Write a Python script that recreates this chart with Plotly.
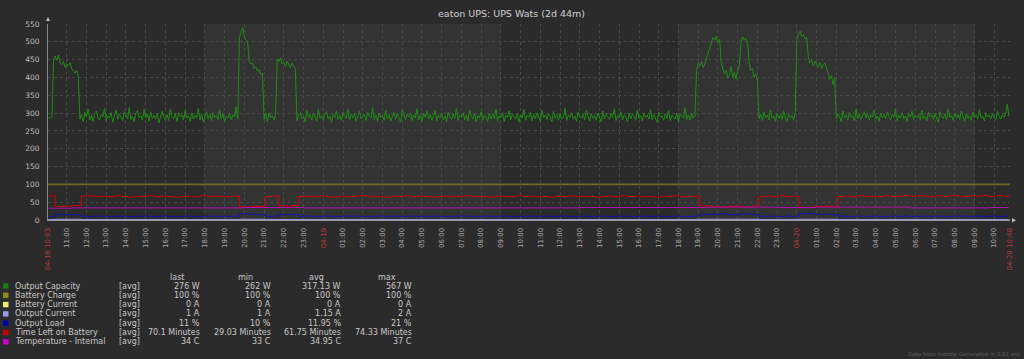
import plotly.graph_objects as go
import pandas as pd

# ---------------- data ----------------
START = "2024-04-18 10:03"
END = "2024-04-20 10:48"

# Output Capacity [W], 5-minute samples from 04-18 10:05
cap_start = [288, 286, 290]
cap_peak1 = [452, 460, 448, 463, 440, 436, 445, 428, 438, 432, 441, 425, 418, 412, 420, 405]
cap_base1 = [283, 296, 275, 302, 289, 311, 280, 294, 277, 299,
             306, 285, 281, 297, 290, 314, 278, 292, 287, 301,
             274, 293, 309, 283, 298, 288, 279, 304, 295, 284,
             316, 282, 291, 276, 300, 307, 286, 293, 280, 310,
             287, 297, 278, 303, 285, 294, 283, 299, 272, 291,
             305, 288, 281, 296, 279, 312, 290, 284, 298, 276,
             301, 289, 295, 280, 308, 286, 292, 277, 300, 283,
             294, 287, 313, 281, 297, 275, 290, 304, 285, 296,
             279, 302, 288, 293, 282, 309, 284, 298, 276, 291,
             286, 300, 281, 295, 289, 317, 283]
cap_peak2 = [510, 528, 540, 515, 505, 500, 445, 438, 440, 425, 430, 418, 422, 408, 412]
cap_base2 = [282, 298, 276, 301, 287, 293, 280, 296]
cap_peak3 = [452, 445, 455, 438, 442, 430, 445, 436, 428, 440, 432, 425]
cap_base3 = [278, 295, 301, 284, 290, 275, 309, 287, 296, 281,
             300, 289, 277, 312, 285, 293, 280, 298, 304, 283,
             291, 274, 297, 288, 306, 282, 294, 279, 302, 290,
             285, 311, 280, 296, 287, 299, 276, 292, 305, 284,
             289, 297, 279, 303, 291, 286, 315, 281, 295, 277,
             300, 288, 293, 280, 307, 284, 296, 278, 290, 302,
             283, 298, 287, 275, 309, 292, 282, 297, 289, 301,
             279, 294, 286, 312, 281, 293, 277, 299, 288, 305,
             284, 296, 280, 291, 307, 278, 295, 287, 300, 282,
             292, 276, 303, 289, 283, 298, 285, 313, 279, 294,
             288, 301, 281, 296, 278, 308, 290, 284, 299, 275,
             293, 286, 304, 280, 295, 289, 277, 300, 283, 297,
             285, 310, 279, 292, 287, 302, 276, 294, 288, 306,
             281, 297, 290, 283, 299, 274, 295, 286, 311, 280,
             293, 288, 303, 278, 296, 284, 300, 289, 277, 308,
             287, 294, 282, 298, 291, 276, 305, 285, 297, 280,
             299, 283, 290, 314, 279, 295, 288, 301, 284, 292,
             277, 303, 289, 286, 296, 281, 309, 290, 278, 298,
             285, 294, 280, 300, 288, 275, 306, 283, 297, 291,
             282, 299, 287, 312, 279, 293, 286, 304, 281, 295,
             289, 276, 301, 284, 297, 290, 280, 308, 285, 293,
             278, 300, 288, 295, 283, 310, 281, 296, 287, 274,
             303, 289, 292, 280, 298, 285, 307, 279, 294, 288,
             283, 301, 276, 297, 290, 286, 315, 282, 295, 280,
             299, 287, 293]
cap_peak4 = [420, 440, 432, 445, 428, 438,
             455, 470, 480,
             500, 512, 505, 515, 498, 508,
             440, 425, 410, 420, 398, 405, 430, 400, 415, 395, 420, 430,
             500, 515, 505, 510, 498,
             440, 420, 425, 400, 410, 390]
cap_base4 = [284, 297, 279, 303, 288, 294, 281, 309, 286, 292, 277, 300,
             285, 296, 282, 305, 289, 276, 298, 287, 293, 280, 301]
cap_peak5 = [505, 522, 530, 515, 520, 508, 512,
             455, 440, 448, 432, 445, 438, 430, 442, 425, 436, 440, 428,
             410, 395, 405, 380, 400]
cap_base5 = [283, 298, 290, 276, 306, 287, 295, 280, 302, 288,
             293, 278, 310, 284, 297, 282, 291, 304, 286, 299,
             280, 295, 289, 308, 283, 292, 277, 300, 287, 296,
             284, 303, 290, 281, 297, 288, 311, 279, 294, 286,
             301, 285, 292, 276, 298, 289, 305, 282, 293, 287,
             296, 280, 309, 284, 291, 278, 302, 288, 295, 283,
             299, 286, 274, 304, 290, 285, 297, 281, 312, 288,
             293, 279, 300, 287, 296, 282, 306, 289, 277, 298,
             285, 292, 280, 303, 288, 295, 283, 310, 286, 291,
             278, 301, 289, 294, 284, 299, 287, 281, 305, 290,
             283, 296, 288, 300, 325, 290]
capacity_w = (cap_start + cap_peak1 + cap_base1 + cap_peak2 + cap_base2 + cap_peak3
              + cap_base3 + cap_peak4 + cap_base4 + cap_peak5 + cap_base5)

# Time Left on Battery [min], 20-minute samples from 04-18 10:05
time_left_min = (
    [68]
    + [38, 38, 40, 41]
    + [67, 68, 66, 67, 65, 68, 66, 64, 67, 66, 68, 65,
       67, 66, 64, 66, 67, 65, 68, 66, 67, 65, 66, 67]
    + [37, 36, 38, 39]
    + [66, 67]
    + [40, 39, 41]
    + [66, 67, 65, 68, 66, 64, 67, 65, 66, 68,
       67, 65, 66, 64, 67, 66, 68, 65, 67, 66,
       64, 66, 67, 65, 66, 68, 67, 65, 66, 64,
       67, 66, 65, 68, 66, 67, 65, 66, 64, 67,
       66, 68, 65, 67, 66, 64, 66, 67, 65, 68,
       66, 67, 65, 66, 64, 67, 66, 68, 65, 66, 67]
    + [40, 39, 37, 36, 38, 39, 37, 36, 39]
    + [66, 67, 65, 68, 66, 67]
    + [36, 35, 37, 38, 39, 38]
    + [66, 67, 65, 68, 66, 67, 65, 68, 66, 67, 69, 66, 68, 67,
       65, 68, 66, 69, 67, 66, 68, 67, 69, 66, 68, 67, 70]
)

# Output Load [%], 20-minute samples from 04-18 10:05
load_pct = (
    [9]
    + [16, 16, 15, 15]
    + [10, 10, 11, 10, 10, 11, 10, 10, 10, 11, 10, 10,
       11, 10, 10, 10, 11, 10, 10, 11, 10, 10, 10, 11]
    + [18, 17, 15, 15]
    + [10, 11]
    + [15, 15, 16]
    + [10, 11, 10, 10, 11, 10, 10, 11, 11, 10,
       10, 10, 11, 10, 11, 10, 10, 11, 10, 10,
       11, 10, 10, 10, 11, 11, 10, 10, 11, 10,
       10, 11, 10, 10, 10, 11, 10, 11, 10, 10,
       11, 10, 10, 11, 10, 10, 11, 10, 10, 11,
       10, 10, 11, 10, 11, 10, 10, 11, 10, 10, 11]
    + [15, 16, 16, 18, 15, 14, 17, 17, 15]
    + [10, 11, 10, 10, 11, 10]
    + [18, 19, 17, 16, 16, 15]
    + [11, 10, 10, 11, 10, 11, 10, 10, 11, 10, 11, 10, 10, 11,
       10, 11, 10, 10, 11, 11, 10, 11, 10, 11, 10, 11, 11]
)

temp_times = ["2024-04-18 10:05", "2024-04-18 11:15", "2024-04-18 20:00",
              "2024-04-18 23:00", "2024-04-19 13:00", "2024-04-19 19:30",
              "2024-04-19 23:00", "2024-04-20 01:00", "2024-04-20 05:45",
              "2024-04-20 09:45", "2024-04-20 10:45"]
temp_c = [33, 34, 35, 34, 35, 36, 35, 36, 34, 35, 34]

current_times = ["2024-04-18 10:05", "2024-04-18 10:25", "2024-04-18 11:45",
                 "2024-04-18 19:45", "2024-04-18 21:05", "2024-04-19 18:55",
                 "2024-04-19 22:05", "2024-04-20 00:05", "2024-04-20 02:05",
                 "2024-04-20 10:45"]
current_a = [1, 2, 1, 2, 1, 2, 1, 2, 1, 1]

flat_times = [START, END]
charge_pct = [100, 100]
battery_current_a = [0, 0]

legend_names = ["Output Capacity", "Battery Charge", "Battery Current", "Output Current",
                "Output Load", "Time Left on Battery", "Temperature - Internal"]
legend_last = ["276 W", "100 %", "0 A", "1 A", "11 %", "70.1 Minutes", "34 C"]
legend_min = ["262 W", "100 %", "0 A", "1 A", "10 %", "29.03 Minutes", "33 C"]
legend_avg = ["317.13 W", "100 %", "0 A", "1.15 A", "11.95 %", "61.75 Minutes", "34.95 C"]
legend_max = ["567 W", "100 %", "0 A", "2 A", "21 %", "74.33 Minutes", "37 C"]
legend_colors = ["#1A7C11", "#8C8C1A", "#F0F070", "#9999EE", "#0000A8", "#CC0000", "#CC00CC"]

y_ticks = list(range(0, 551, 50))
offwork_bands = [("2024-04-18 18:00", "2024-04-19 09:00"),
                 ("2024-04-19 18:00", "2024-04-20 09:00")]

# ---------------- figure ----------------
W, H = 1024, 359
L, R, T, B = 48, 14, 24, 139
PW, PH = W - L - R, H - T - B
FONT = "DejaVu Sans"


def px(x):
    return (x - L) / PW


def py(y):
    return (H - B - y) / PH


t5 = pd.date_range("2024-04-18 10:05", periods=len(capacity_w), freq="5min")
t20 = pd.date_range("2024-04-18 10:05", periods=len(time_left_min), freq="20min")

fig = go.Figure()
fig.add_trace(go.Scatter(x=t5, y=capacity_w, mode="lines", line=dict(color="#1f8c14", width=1)))
fig.add_trace(go.Scatter(x=flat_times, y=charge_pct, mode="lines", line=dict(color="#6e6c1c", width=1.6)))
fig.add_trace(go.Scatter(x=flat_times, y=battery_current_a, mode="lines", line=dict(color="#d8d870", width=1.2)))
fig.add_trace(go.Scatter(x=current_times, y=current_a, mode="lines", line=dict(color="#9999EE", width=1, shape="hv")))
fig.add_trace(go.Scatter(x=t20, y=load_pct, mode="lines", line=dict(color="#1515b0", width=1, shape="hv")))
fig.add_trace(go.Scatter(x=t20, y=time_left_min, mode="lines", line=dict(color="#d00000", width=1, shape="hv")))
fig.add_trace(go.Scatter(x=temp_times, y=temp_c, mode="lines", line=dict(color="#b010b0", width=1, shape="hv")))

# x ticks
hours = pd.date_range("2024-04-18 11:00", "2024-04-20 10:00", freq="1h")
red = "#b83a3a"
tickvals = [pd.Timestamp(START)] + list(hours) + [pd.Timestamp(END)]
ticktext = [f'<span style="color:{red}">04-18 10:03</span>']
for h in hours:
    if h.hour == 0:
        ticktext.append(f'<span style="color:{red}">{h.strftime("%m-%d")}</span>')
    else:
        ticktext.append(h.strftime("%H:%M"))
ticktext.append(f'<span style="color:{red}">04-20 10:48</span>')

shapes = []
for a, b in offwork_bands:
    shapes.append(dict(type="rect", xref="x", yref="paper", x0=a, x1=b, y0=0, y1=1,
                       fillcolor="#333333", line=dict(width=0), layer="below"))
# axis arrows
shapes.append(dict(type="path", xref="paper", yref="paper",
                   path=f"M {px(46)} {py(21)} L {px(50)} {py(21)} L {px(48)} {py(17)} Z",
                   fillcolor="#bbbbbb", line=dict(width=0)))
shapes.append(dict(type="path", xref="paper", yref="paper",
                   path=f"M {px(1012)} {py(218)} L {px(1012)} {py(222.5)} L {px(1016)} {py(220.2)} Z",
                   fillcolor="#bbbbbb", line=dict(width=0)))

annotations = [dict(text="eaton UPS: UPS Wats (2d 44m)", xref="paper", yref="paper",
                    x=px(511), y=py(13), showarrow=False, xanchor="center", yanchor="middle",
                    font=dict(family=FONT, size=9.5, color="#cfcfcf"))]

txt = "#c8c8c8"
for label, xc in zip(["last", "min", "avg", "max"], [177, 245, 316, 387]):
    annotations.append(dict(text=label, xref="paper", yref="paper", x=px(xc), y=py(277),
                            showarrow=False, xanchor="center", yanchor="middle",
                            font=dict(family=FONT, size=8, color=txt)))
for i, name in enumerate(legend_names):
    yy = 286 + 9.3 * i
    shapes.append(dict(type="rect", xref="paper", yref="paper", x0=px(3), x1=px(8.5),
                       y0=py(yy + 2.7), y1=py(yy - 2.7), fillcolor=legend_colors[i],
                       line=dict(width=0)))
    annotations.append(dict(text=name, xref="paper", yref="paper", x=px(12.5), y=py(yy),
                            showarrow=False, xanchor="left", yanchor="middle",
                            font=dict(family=FONT, size=8, color=txt)))
    annotations.append(dict(text="[avg]", xref="paper", yref="paper", x=px(117), y=py(yy),
                            showarrow=False, xanchor="left", yanchor="middle",
                            font=dict(family=FONT, size=8, color=txt)))
    for vals, xr in zip([legend_last, legend_min, legend_avg, legend_max], [202, 273, 343, 414]):
        annotations.append(dict(text=vals[i], xref="paper", yref="paper", x=px(xr), y=py(yy),
                                showarrow=False, xanchor="right", yanchor="middle",
                                font=dict(family=FONT, size=8, color=txt)))

annotations.append(dict(text="Data from history. Generated in 0.81 sec", xref="paper", yref="paper",
                        x=px(1022), y=py(354), showarrow=False, xanchor="right", yanchor="middle",
                        font=dict(family=FONT, size=5.5, color="#5e5e5e")))

fig.update_layout(
    width=W, height=H,
    margin=dict(l=L, r=R, t=T, b=B, pad=0),
    paper_bgcolor="#2b2b2b", plot_bgcolor="#2b2b2b",
    showlegend=False,
    shapes=shapes, annotations=annotations,
    font=dict(family=FONT, color="#bbbbbb"),
    xaxis=dict(range=[START, END], tickmode="array", tickvals=tickvals, ticktext=ticktext,
               tickangle=-90, tickfont=dict(family=FONT, size=7, color="#aaaaaa"),
               showgrid=True, gridcolor="#474747", griddash="dot", gridwidth=1,
               showline=True, linecolor="#999999", linewidth=1, zeroline=False,
               ticks="", ticklabelstandoff=4, fixedrange=True, automargin=False),
    yaxis=dict(range=[0, 550], tickmode="array", tickvals=y_ticks,
               tickfont=dict(family=FONT, size=7.5, color="#bdbdbd"),
               showgrid=True, gridcolor="#474747", griddash="dot", gridwidth=1,
               showline=True, linecolor="#888888", linewidth=1, zeroline=False,
               ticks="", ticklabelstandoff=6, fixedrange=True, automargin=False),
)

fig.write_html("out.html", config={"displayModeBar": False},
               post_script="document.body.style.margin='0';document.body.style.background='#2b2b2b';")
